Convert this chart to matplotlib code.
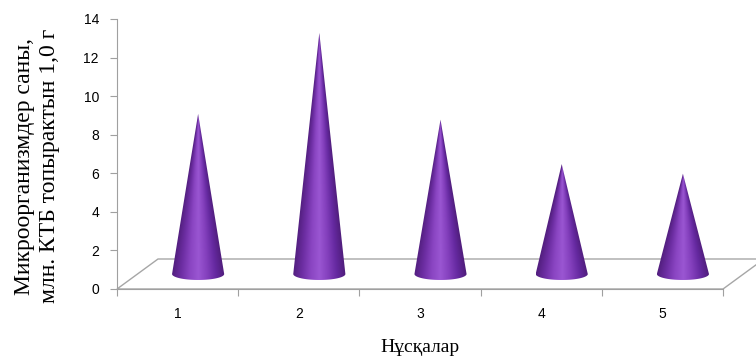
import numpy as np
import matplotlib.pyplot as plt
from matplotlib.patches import Polygon
from matplotlib.colors import LinearSegmentedColormap

# ===== данные =====
variants = ["1", "2", "3", "4", "5"]
counts = [8.3, 12.5, 8.0, 5.7, 5.2]
y_ticks = [0, 2, 4, 6, 8, 10, 12, 14]

# ===== псевдо-3D параметры =====
depth_dx = 0.338   # сдвиг "пола" вглубь по x
depth_dy = 1.555   # сдвиг "пола" вглубь по y
cone_r = 0.215     # полуширина основания конуса
ell_h = 0.31       # полувысота эллипса основания

cone_cmap = LinearSegmentedColormap.from_list(
    "cone", ["#531f80", "#6d2ea3", "#8a45c2", "#9a56d2", "#8440bd", "#6529a0", "#4f1d7a"]
)

fig = plt.figure(figsize=(7.56, 3.57), dpi=100)
ax = fig.add_axes([0.1548, 0.1905, 0.8016, 0.7563])

# пол
floor = Polygon([(0.5, 0), (5.5, 0), (5.5 + depth_dx, depth_dy), (0.5 + depth_dx, depth_dy)],
                closed=True, facecolor="white", edgecolor="#a6a6a6", lw=1.0,
                clip_on=False, zorder=1)
ax.add_patch(floor)

# конусы
for i, val in enumerate(counts):
    cx = i + 1 + depth_dx / 2
    b = depth_dy / 2
    th = np.linspace(0, -np.pi, 60)
    pts = [(cx - cone_r, b), (cx, b + val), (cx + cone_r, b)]
    pts += list(zip(cx + cone_r * np.cos(th), b + ell_h * np.sin(th)))
    poly = Polygon(pts, closed=True, transform=ax.transData, facecolor="none", edgecolor="none")

    xs = np.linspace(cx - cone_r, cx + cone_r, 120)
    ys = np.linspace(b - ell_h, b + val, 400)
    X, Y = np.meshgrid(xs, ys)
    t = np.clip((Y - b) / val, 0, 0.999)
    u = np.clip((X - cx) / (cone_r * (1 - t)), -1, 1)
    img = ax.imshow((u + 1) / 2, cmap=cone_cmap, vmin=0, vmax=1, origin="lower",
                    extent=(cx - cone_r, cx + cone_r, b - ell_h, b + val),
                    aspect="auto", zorder=3, interpolation="bilinear")
    img.set_clip_path(poly)

# ===== оси =====
ax.set_xlim(0.5, 5.5)
ax.set_ylim(0, 14)
for s in ["top", "right"]:
    ax.spines[s].set_visible(False)
for s in ["left", "bottom"]:
    ax.spines[s].set_color("#a0a0a0")

ax.set_yticks(y_ticks)
ax.set_xticks(np.arange(0.5, 6, 1))
ax.set_xticklabels([])
ax.set_xticks(np.arange(1, 6), minor=True)
ax.set_xticklabels(variants, minor=True)
ax.tick_params(axis="y", length=5, color="#a0a0a0", pad=8, labelsize=10)
ax.tick_params(axis="x", which="major", length=5, color="#a0a0a0")
ax.tick_params(axis="x", which="minor", length=0, pad=13, labelsize=10)
for lab in ax.get_xticklabels(minor=True) + ax.get_yticklabels():
    lab.set_fontfamily("Liberation Sans")

ax.set_xlabel("Нұсқалар", family="Liberation Serif", fontsize=14, labelpad=13)
ax.set_ylabel("Микроорганизмдер саны,\nмлн. КТБ топырактын 1,0 г",
              family="Liberation Serif", fontsize=17, linespacing=1.25)
ax.yaxis.set_label_coords(-0.094, 0.455)

plt.savefig("out.png", dpi=100)
